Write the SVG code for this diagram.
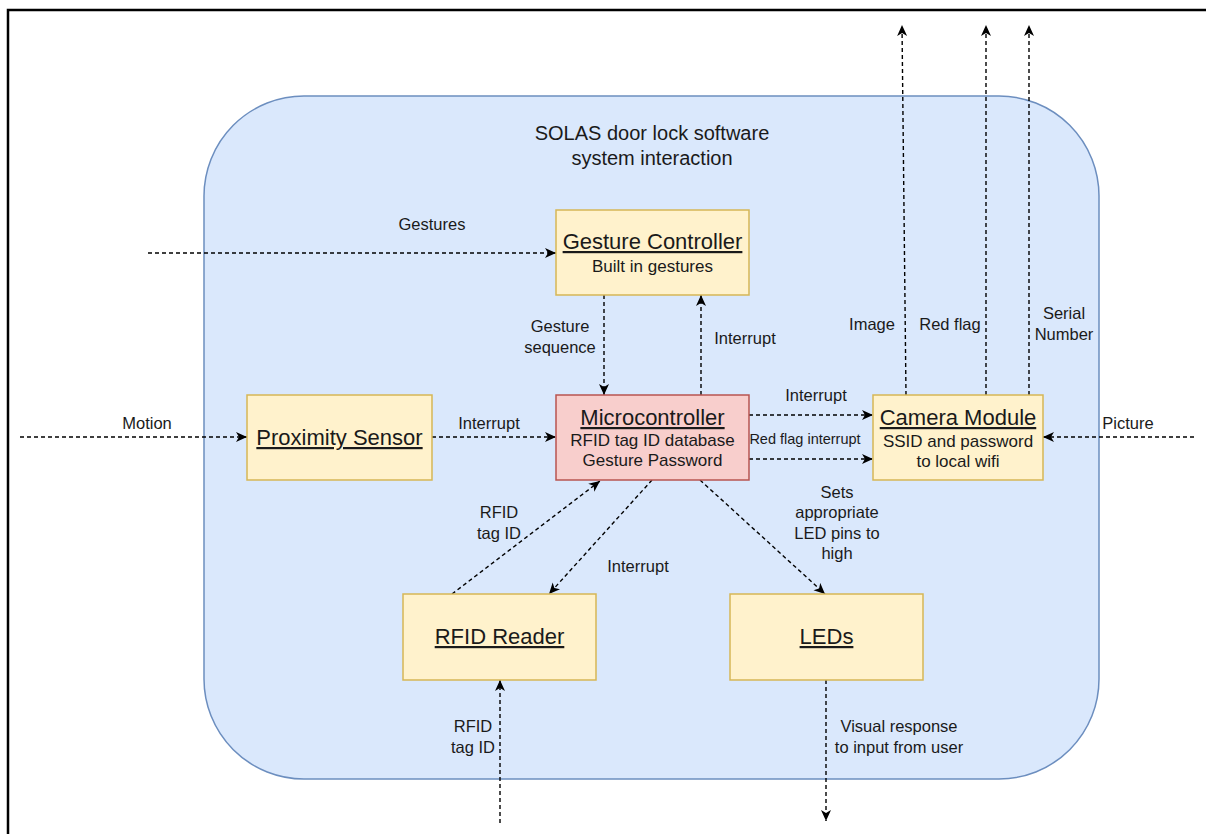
<svg xmlns="http://www.w3.org/2000/svg" width="1206" height="834" viewBox="0 0 1206 834">
<style>
text{font-family:"Liberation Sans",Arial,sans-serif;fill:#1a1a1a;text-anchor:middle}
.lbl{font-size:16.5px}
.small{font-size:14.5px}
.title{font-size:22px;text-decoration:underline}
.sub{font-size:17px}
.box{fill:#fff2cc;stroke:#d6b656;stroke-width:1.5}
.red{fill:#f8cecc;stroke:#b85450;stroke-width:1.5}
.conn line{stroke:#000;stroke-width:1.4;stroke-dasharray:4 3;fill:none;marker-end:url(#arr)}
</style>
<defs>
<marker id="arr" markerUnits="userSpaceOnUse" markerWidth="12" markerHeight="11" refX="11" refY="5" orient="auto" viewBox="0 0 12 11">
<path d="M0,0 L11,5 L0,10 L3,5 z" fill="#000" stroke="none"/>
</marker>
</defs>
<rect x="0" y="0" width="1206" height="834" fill="#fff"/>
<path d="M8,834 V10 H1206" fill="none" stroke="#000" stroke-width="2.5"/>
<g id="system">
<rect x="204" y="96" width="895" height="683" rx="100" ry="100" fill="#dae8fc" stroke="#6c8ebf" stroke-width="1.5"/>
<text x="652" y="140" style="font-size:20px">SOLAS door lock software</text>
<text x="652" y="165" style="font-size:20px">system interaction</text>
</g>
<g class="conn" id="connectors">
<line x1="148" y1="253" x2="556" y2="253"/>
<line x1="604" y1="295" x2="604" y2="395"/>
<line x1="701" y1="395" x2="701" y2="295"/>
<line x1="20" y1="437" x2="247" y2="437"/>
<line x1="432" y1="437" x2="556" y2="437"/>
<line x1="749" y1="415" x2="873" y2="415"/>
<line x1="749" y1="459" x2="873" y2="459"/>
<line x1="1194" y1="437" x2="1043" y2="437"/>
<line x1="906" y1="395" x2="902" y2="25"/>
<line x1="986" y1="395" x2="986" y2="25"/>
<line x1="1029" y1="395" x2="1029" y2="25"/>
<line x1="452" y1="594" x2="600" y2="481"/>
<line x1="652" y1="480" x2="549" y2="594"/>
<line x1="700" y1="480" x2="825" y2="594"/>
<line x1="500" y1="823" x2="500" y2="680"/>
<line x1="826" y1="680" x2="826" y2="821"/>
</g>
<g id="labels">
<text class="lbl" x="432" y="230">Gestures</text>
<text class="lbl" x="560" y="332">Gesture</text>
<text class="lbl" x="560" y="353">sequence</text>
<text class="lbl" x="745" y="344">Interrupt</text>
<text class="lbl" x="147" y="429">Motion</text>
<text class="lbl" x="489" y="429">Interrupt</text>
<text class="lbl" x="816" y="401">Interrupt</text>
<text class="small" x="805" y="444">Red flag interrupt</text>
<text class="lbl" x="1128" y="429">Picture</text>
<text class="lbl" x="872" y="330">Image</text>
<text class="lbl" x="950" y="330">Red flag</text>
<text class="lbl" x="1064" y="319">Serial</text>
<text class="lbl" x="1064" y="340">Number</text>
<text class="lbl" x="499" y="518">RFID</text>
<text class="lbl" x="499" y="539">tag ID</text>
<text class="lbl" x="638" y="572">Interrupt</text>
<text class="lbl" x="837" y="498">Sets</text>
<text class="lbl" x="837" y="518">appropriate</text>
<text class="lbl" x="837" y="539">LED pins to</text>
<text class="lbl" x="837" y="559">high</text>
<text class="lbl" x="473" y="732">RFID</text>
<text class="lbl" x="473" y="753">tag ID</text>
<text class="lbl" x="899" y="732">Visual response</text>
<text class="lbl" x="899" y="753">to input from user</text>
</g>
<g id="gesture-controller">
<rect class="box" x="556" y="210" width="193" height="85"/>
<text class="title" x="652.5" y="249">Gesture Controller</text>
<text class="sub" x="652.5" y="272">Built in gestures</text>
</g>
<g id="microcontroller">
<rect class="red" x="556" y="395" width="193" height="85"/>
<text class="title" x="652.5" y="425">Microcontroller</text>
<text class="sub" x="652.5" y="446">RFID tag ID database</text>
<text class="sub" x="652.5" y="466">Gesture Password</text>
</g>
<g id="proximity-sensor">
<rect class="box" x="247" y="395" width="185" height="85"/>
<text class="title" x="339.5" y="445">Proximity Sensor</text>
</g>
<g id="camera-module">
<rect class="box" x="873" y="395" width="170" height="85"/>
<text class="title" x="958" y="425">Camera Module</text>
<text class="sub" x="958" y="447">SSID and password</text>
<text class="sub" x="958" y="467">to local wifi</text>
</g>
<g id="rfid-reader">
<rect class="box" x="403" y="594" width="193" height="86"/>
<text class="title" x="499.5" y="644">RFID Reader</text>
</g>
<g id="leds">
<rect class="box" x="730" y="594" width="193" height="86"/>
<text class="title" x="826.5" y="644">LEDs</text>
</g>
</svg>
